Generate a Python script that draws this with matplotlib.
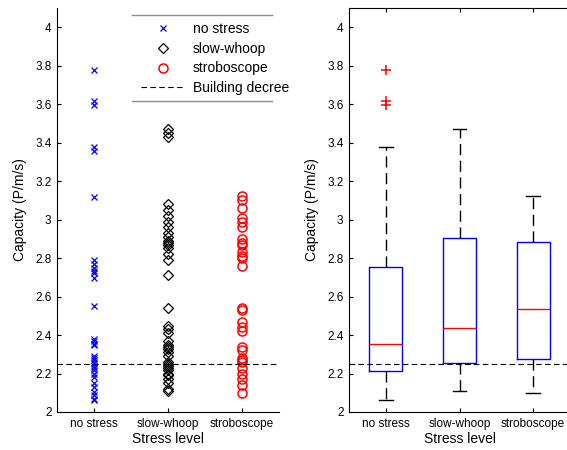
import numpy as np
import matplotlib
matplotlib.use("Agg")
import matplotlib.pyplot as plt
from matplotlib.lines import Line2D

plt.rcParams['font.family'] = ['Liberation Sans', 'DejaVu Sans']

# stress levels and measured capacity (P/m/s)
categories = ['no stress', 'slow-whoop', 'stroboscope']
no_stress = [2.06, 2.07, 2.09, 2.105, 2.13, 2.15, 2.18, 2.20,
             2.22, 2.23, 2.24, 2.255, 2.27, 2.28, 2.29,
             2.35, 2.355, 2.37, 2.38, 2.55,
             2.695, 2.72, 2.735, 2.75, 2.77, 2.79,
             3.12, 3.357, 3.38, 3.596, 3.617, 3.776]
slow_whoop = [2.11, 2.12, 2.15, 2.17, 2.19, 2.20, 2.22, 2.23, 2.24, 2.25,
              2.26, 2.29, 2.31, 2.33, 2.34, 2.35, 2.37, 2.41, 2.43, 2.445,
              2.54, 2.71, 2.79, 2.82, 2.85, 2.87, 2.88, 2.89, 2.91, 2.93,
              2.96, 2.99, 3.02, 3.05, 3.08, 3.43, 3.45, 3.47]
stroboscope = [2.10, 2.14, 2.17, 2.20, 2.23, 2.26, 2.27, 2.28, 2.32, 2.34,
               2.42, 2.44, 2.47, 2.53, 2.54,
               2.76, 2.80, 2.81, 2.83, 2.87, 2.88, 2.90, 2.96, 2.99, 3.01,
               3.06, 3.10, 3.125]
decree = 2.25
yticks = [2, 2.2, 2.4, 2.6, 2.8, 3, 3.2, 3.4, 3.6, 3.8, 4]

fig = plt.figure(figsize=(5.67, 4.5), dpi=100)
ax1 = fig.add_axes([57/567, 38/450, 222/567, 404/450])
ax2 = fig.add_axes([349/567, 38/450, 221/567, 404/450])

# left: raw values
p1, = ax1.plot(np.full(len(no_stress), 1), no_stress, 'x', color='b', ms=4, mew=0.9)
p2, = ax1.plot(np.full(len(slow_whoop), 2), slow_whoop, 'D', mfc='none', mec='k', ms=5.5, mew=0.9)
p3, = ax1.plot(np.full(len(stroboscope), 3), stroboscope, 'o', mfc='none', mec='r', ms=6.5, mew=1.1)
p4 = ax1.axhline(decree, color='k', lw=0.8, dashes=(5, 3))

leg = ax1.legend([p1, p2, p3, p4], ['no stress', 'slow-whoop', 'stroboscope', 'Building decree'],
                 loc='upper left', bbox_to_anchor=(0.347, 0.983), frameon=False, borderpad=0,
                 handlelength=3.2, handletextpad=0.55, labelspacing=0.42, fontsize=10)
for yy in (0.983, 0.770):
    ax1.add_line(Line2D([0.338, 0.968], [yy, yy], transform=ax1.transAxes, color='0.55', lw=1, clip_on=False))

# right: box plots
ax2.boxplot([no_stress, slow_whoop, stroboscope], positions=[1, 2, 3], widths=0.45,
            capwidths=0.19, whis=1.5,
            boxprops=dict(color='b', lw=1),
            medianprops=dict(color='r', lw=1),
            whiskerprops=dict(color='k', lw=1, dashes=(8, 4)),
            capprops=dict(color='k', lw=1),
            flierprops=dict(marker='+', mec='r', ms=7, mew=1.1))
ax2.axhline(decree, color='k', lw=0.8, dashes=(5, 3))

for ax in (ax1, ax2):
    ax.set_xlim(0.5, 3.5)
    ax.set_ylim(2, 4.1)
    ax.set_xticks([1, 2, 3])
    ax.set_xticklabels(categories)
    ax.set_yticks(yticks)
    ax.set_yticklabels(['%g' % v for v in yticks])
    ax.tick_params(direction='in', length=3, width=0.8, labelsize=8.5, pad=4)
    ax.set_xlabel('Stress level', fontsize=10, labelpad=2)
    ax.set_ylabel('Capacity (P/m/s)', fontsize=10, labelpad=6)

ax1.spines['top'].set_visible(False)
ax1.spines['right'].set_visible(False)
ax2.tick_params(top=True)

fig.savefig('out.png', dpi=100)
